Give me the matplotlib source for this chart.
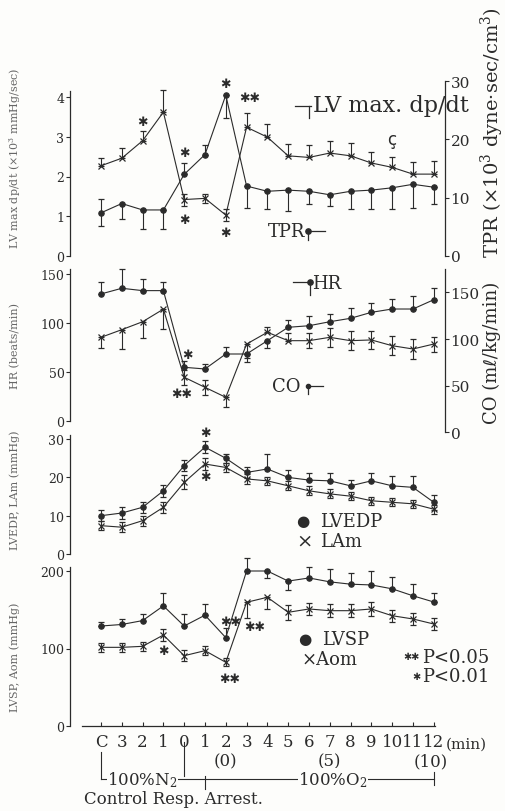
import numpy as np
import matplotlib
matplotlib.use("Agg")
import matplotlib.pyplot as plt
from matplotlib.lines import Line2D

plt.rcParams["font.family"] = ["DejaVu Serif", "DejaVu Sans"]
plt.rcParams["mathtext.fontset"] = "dejavuserif"

# x positions: control, N2 minutes, resp. arrest minutes
xlabels = ["C", "3", "2", "1", "0", "1", "2", "3", "4", "5", "6", "7", "8", "9", "10", "11", "12"]

# panel 1: LV max dp/dt (x10^3 mmHg/sec, left) and TPR (x10^3, right)
lv = [2.27, 2.46, 2.90, 3.62, 1.42, 1.45, 1.03, 3.24, 2.99, 2.52, 2.48, 2.59, 2.52, 2.34, 2.23, 2.06, 2.06]
lv_err = [0.2, 0.25, 0.25, 0.55, 0.15, 0.12, 0.15, 0.37, 0.33, 0.3, 0.3, 0.31, 0.33, 0.28, 0.25, 0.31, 0.33]
lv_dir = "uuuubbbuuuuuuuuuu"
tpr = [7.4, 9.0, 7.9, 7.9, 14.0, 17.4, 27.6, 12.0, 11.1, 11.3, 11.1, 10.5, 11.1, 11.3, 11.7, 12.3, 11.8]
tpr_err = [2.3, 2.7, 3.2, 3.2, 2.0, 1.7, 3.9, 3.7, 3.1, 3.6, 2.1, 2.0, 3.0, 3.2, 3.7, 4.0, 2.8]
tpr_dir = "bddduuddddddddddd"

# panel 2: HR (beats/min, left) and CO (ml/kg/min, right)
hr = [129.6, 135.4, 133, 133, 54.6, 52.9, 68.2, 68.2, 81.8, 95.5, 97.1, 101.2, 104.7, 110.8, 114.2, 114.2, 123.7]
hr_err = [12, 20, 12, 9, 6, 5, 7, 8, 7, 7, 9.6, 8, 11, 10, 10, 13.6, 11.7]
hr_dir = "uuuuuuudduuuuuuuu"
co = [101.8, 110, 118.5, 132, 59, 48.2, 37.5, 94.6, 107.2, 98.2, 98.2, 101.8, 98.2, 99, 92.8, 89.3, 94.6]
co_err = [11, 21, 17, 21, 8, 8, 10.7, 15, 6, 8, 8, 10, 10, 10, 10, 11, 8]
co_dir = "ddddbbdduubbbbbbb"

# panel 3: LVEDP and LAm (mmHg)
lvedp = [10.0, 10.7, 12.2, 16.5, 23.1, 27.9, 25.0, 21.3, 22.2, 20.0, 19.3, 19.1, 17.8, 19.1, 17.8, 17.4, 13.5]
lvedp_err = [1.5, 1.5, 1.5, 1.5, 1.5, 1.5, 1.2, 1.5, 3.9, 2.0, 1.8, 2.0, 1.5, 2.0, 2.5, 3.0, 2.0]
lvedp_dir = "bbbbbbbbuuuuuuuub"
lam = [7.4, 7.0, 8.7, 12.2, 18.7, 23.5, 22.6, 19.6, 19.1, 17.8, 16.5, 15.7, 15.1, 13.9, 13.5, 13.1, 11.7]
lam_err = [1.2, 1.3, 1.3, 1.5, 1.8, 1.5, 1.2, 1.2, 1.0, 1.2, 1.2, 1.2, 1.0, 1.0, 1.0, 1.0, 1.2]
lam_dir = "bbbbbbbbbbbbbbbbb"

# panel 4: LVSP and Aom (mmHg)
lvsp = [129, 131, 136, 155, 129, 143, 114, 200, 200, 187, 191, 186, 183, 182, 177, 168, 160]
lvsp_err = [5, 7, 9, 17, 15, 14, 12, 17, 9, 11, 14, 16, 15, 18, 15, 15, 12]
lvsp_dir = "uuuuuuuudduuuuuuu"
aom = [101.5, 101.5, 102.8, 117.4, 90.7, 97.2, 82.2, 159.6, 166.1, 146.7, 151, 148.8, 148.8, 151, 142.3, 138.1, 131.6]
aom_err = [6, 6, 6, 8, 7, 6, 5, 20, 15, 10, 8, 8, 8, 9, 8, 8, 8]
aom_dir = "bbbbbbbddbbbbbbbb"

W, H = 506, 812
bg = "#fdfdfb"
ink = "#2b2b2b"
fig = plt.figure(figsize=(W / 100, H / 100), dpi=100, facecolor=bg)
x = np.arange(len(xlabels))


def panel(top, bottom, ymax, ticks, side="left", bound=None):
    ax = fig.add_axes([70 / W, 1 - bottom / H, 375 / W, (bottom - top) / H])
    ax.set_xlim(-1.49, 16.54)
    ax.set_ylim(0, ymax)
    ax.patch.set_visible(False)
    for s in ax.spines.values():
        s.set_visible(False)
    sp = ax.spines[side]
    sp.set_visible(True)
    sp.set_linewidth(0.9)
    sp.set_color(ink)
    if bound:
        sp.set_bounds(0, bound)
    ax.yaxis.set_ticks_position(side)
    ax.set_yticks(ticks)
    size = 9 if side == "left" else 11
    ax.tick_params(axis="y", direction="out", length=3, width=0.8, labelsize=size,
                   pad=1, colors=ink)
    ax.set_xticks([])
    return ax


def series(ax, y, err, dirs, marker):
    lo = [e if d in "db" else 0 for e, d in zip(err, dirs)]
    hi = [e if d in "ub" else 0 for e, d in zip(err, dirs)]
    ms = 3.8 if marker == "o" else 4.5
    ax.errorbar(x, y, yerr=[lo, hi], fmt="-", marker=marker, ms=ms, mew=0.9,
                color=ink, lw=0.8, elinewidth=0.8, capsize=2.2, capthick=0.8,
                clip_on=False)


def star(ax, i, y, s, dy, dx=0, size=9):
    ax.annotate(s, (i, y), xytext=(dx * 0.72, dy * 0.72), textcoords="offset points",
                ha="center", va="center", fontsize=size, color=ink,
                family=["DejaVu Sans"], annotation_clip=False)


def fline(xs, ys, lw=0.9):
    fig.add_artist(Line2D([v / W for v in xs], [1 - v / H for v in ys],
                          transform=fig.transFigure, color=ink, lw=lw))


def ftext(px, py, s, size, ha="left", **kw):
    fig.text(px / W, 1 - py / H, s, fontsize=size, ha=ha, va="center", color=ink, **kw)


# panel 1
ax1 = panel(80, 257, 177 / 39.75, [0, 1, 2, 3, 4], bound=4.15)
ax1r = panel(80, 257, 177 / 5.83, [0, 10, 20, 30], side="right", bound=30)
series(ax1, lv, lv_err, lv_dir, "x")
series(ax1r, tpr, tpr_err, tpr_dir, "o")
star(ax1, 2, lv[2], "✱", 19)
star(ax1r, 4, tpr[4], "✱", 22)
star(ax1, 4, lv[4], "✱", -20)
star(ax1r, 6, tpr[6], "✱", 12)
star(ax1, 6, lv[6], "✱", -17)
star(ax1, 7, lv[7], "✱✱", 30, dx=3)
star(ax1, 14, lv[14], "ç", 28, size=12)

# panel 2
ax2 = panel(266, 421.7, 155.7 / 0.978, [0, 50, 100, 150], bound=155)
ax2r = panel(270, 433.3, 163.3 / 0.933, [0, 50, 100, 150], side="right")
series(ax2, hr, hr_err, hr_dir, "o")
series(ax2r, co, co_err, co_dir, "x")
star(ax2, 4, hr[4], "✱", 13, dx=3)
star(ax2r, 4, co[4], "✱✱", -16, dx=-2)

# panel 3
ax3 = panel(432, 555, 123 / 3.83, [0, 10, 20, 30], bound=31)
series(ax3, lvedp, lvedp_err, lvedp_dir, "o")
series(ax3, lam, lam_err, lam_dir, "x")
star(ax3, 5, lvedp[5], "✱", 15)
star(ax3, 5, lam[5], "✱", -13)

# panel 4
ax4 = panel(565, 727, 162 / 0.775, [0, 100, 200], bound=205)
series(ax4, lvsp, lvsp_err, lvsp_dir, "o")
series(ax4, aom, aom_err, aom_dir, "x")
star(ax4, 3, aom[3], "✱", -15)
star(ax4, 6, lvsp[6], "✱✱", 16, dx=5)
star(ax4, 6, aom[6], "✱✱", -16, dx=4)
star(ax4, 7, aom[7], "✱✱", -24, dx=8)

ax4.spines["bottom"].set_visible(True)
ax4.spines["bottom"].set_bounds(-0.91, 16.06)
ax4.spines["bottom"].set_color(ink)
ax4.spines["bottom"].set_linewidth(0.9)
ax4.set_xticks(x)
ax4.set_xticklabels(xlabels)
ax4.tick_params(axis="x", direction="in", length=3, width=0.8, labelsize=12, pad=5,
                colors=ink)

# time / gas annotations below the axis
axb = fig.add_axes([70 / W, 0, 375 / W, 85 / H])
axb.set_xlim(-1.49, 16.54)
axb.set_ylim(85, 0)
axb.axis("off")
axb.text(16.58, 18, "(min)", fontsize=11, ha="left", va="center", color=ink)
for xi, s in [(6, "(0)"), (11, "(5)"), (15.85, "(10)")]:
    axb.text(xi, 35, s, fontsize=12, ha="center", va="center", color=ink)
for xi, y0, y1 in [(0, 26, 53), (4, 16, 50), (5, 50, 63), (16, 46, 59)]:
    axb.plot([xi, xi], [y0, y1], color=ink, lw=0.8)
axb.plot([0, 16], [53, 53], color=ink, lw=0.8)
axb.text(2.0, 53, "100%N$_2$", fontsize=12, ha="center", va="center", color=ink,
         bbox=dict(facecolor=bg, edgecolor="none", pad=0.5))
axb.text(11.15, 53, "100%O$_2$", fontsize=12, ha="center", va="center", color=ink,
         bbox=dict(facecolor=bg, edgecolor="none", pad=0.5))
axb.text(-0.8, 73, "Control Resp. Arrest.", fontsize=12, ha="left", va="center", color=ink)

# in-plot labels
fline([295, 311], [107, 107])
fline([309, 309], [107, 119])
ftext(313, 106, "LV max. dp/dt", 16)
ftext(268, 232, "TPR", 13)
fline([308, 325], [232, 232])
fline([308, 308], [232, 241])
fig.add_artist(Line2D([308 / W], [1 - 232 / H], transform=fig.transFigure,
                      marker="o", ms=3.8, color=ink))
fline([293, 310], [283, 283])
fline([310, 310], [283, 296])
fig.add_artist(Line2D([310 / W], [1 - 283 / H], transform=fig.transFigure,
                      marker="o", ms=3.8, color=ink))
ftext(312, 284, "HR", 13)
ftext(272, 387, "CO", 13)
fline([308, 323], [387, 387])
fline([308, 308], [387, 395])
fig.add_artist(Line2D([308 / W], [1 - 387 / H], transform=fig.transFigure,
                      marker="o", ms=3.0, color=ink))
ftext(303, 522, "●", 11, ha="center", family=["DejaVu Sans"])
ftext(320, 522, "LVEDP", 13)
ftext(304, 542, "×", 14, ha="center")
ftext(320, 542, "LAm", 13)
ftext(305, 640, "●", 11, ha="center", family=["DejaVu Sans"])
ftext(322, 640, "LVSP", 13)
ftext(302, 660, "×Aom", 13)
ftext(411, 657, "✱✱", 7, ha="center", family=["DejaVu Sans"])
ftext(422, 658, "P<0.05", 13)
ftext(416, 677, "✱", 7, ha="center", family=["DejaVu Sans"])
ftext(422, 677, "P<0.01", 13)

# axis titles
ftext(492, 133, "TPR (×10$^3$ dyne·sec/cm$^3$)", 14, ha="center", rotation=90)
ftext(492, 353, "CO (mℓ/kg/min)", 13, ha="center", rotation=90)
for py, s in [(158, "LV max dp/dt (×10$^3$ mmHg/sec)"), (346, "HR (beats/min)"),
              (490, "LVEDP, LAm (mmHg)"), (657, "LVSP, Aom (mmHg)")]:
    fig.text(15 / W, 1 - py / H, s, fontsize=8, rotation=90, ha="center", va="center",
             color="#666666")

fig.savefig("out.png", dpi=100, facecolor=bg)
